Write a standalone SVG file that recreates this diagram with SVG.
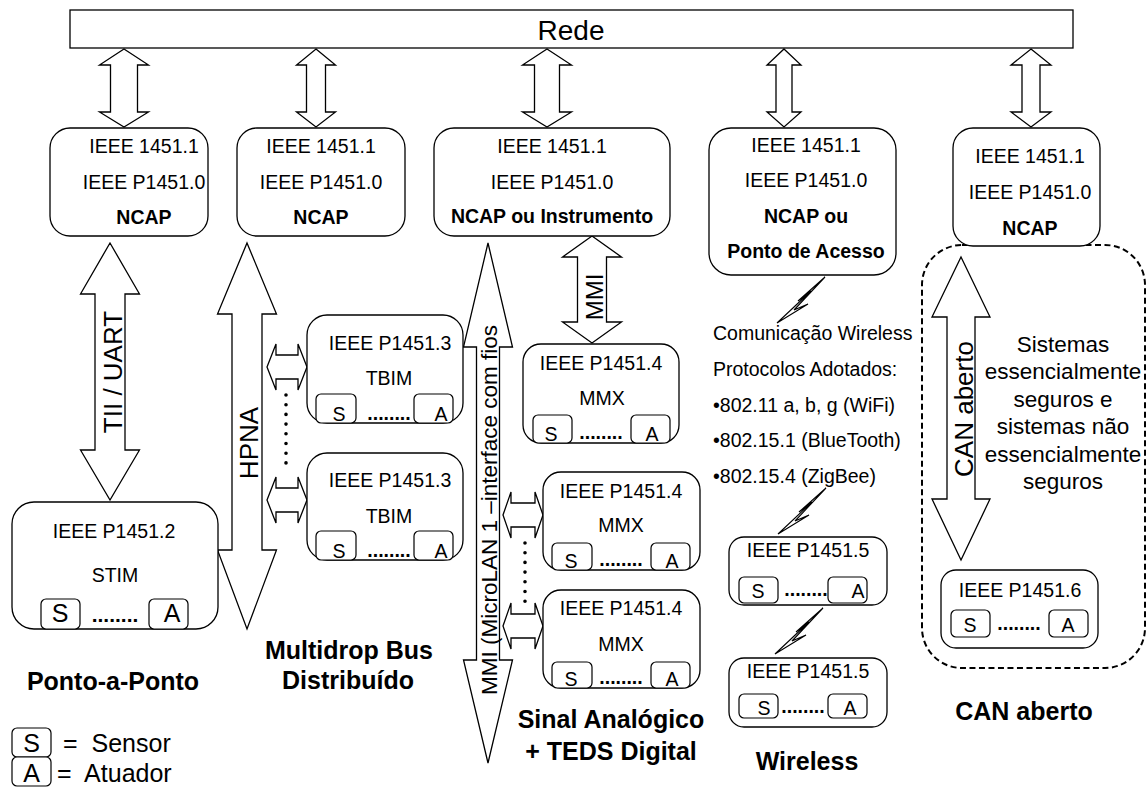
<svg xmlns="http://www.w3.org/2000/svg" xmlns:xlink="http://www.w3.org/1999/xlink" width="1147" height="787" viewBox="0 0 1147 787">
<style>
.t{font-family:"Liberation Sans",Arial,sans-serif;font-size:19.5px;text-anchor:middle;fill:#000}
.b{font-weight:bold}
.box{fill:#fff;stroke:#000;stroke-width:1.3}
.sa{fill:#fff;stroke:#000;stroke-width:1.2}
.arr{fill:#fff;stroke:#000;stroke-width:1.3;stroke-linejoin:miter}
.lab{font-family:"Liberation Sans",Arial,sans-serif;font-size:25px;font-weight:bold;text-anchor:middle;fill:#000}
.rot{font-family:"Liberation Sans",Arial,sans-serif;font-size:26px;text-anchor:middle;fill:#000}
.dots{fill:none;stroke:#000;stroke-width:3.6;stroke-linecap:round;stroke-dasharray:0 9.7}
.bolt{fill:#fff;stroke:#000;stroke-width:1.1;stroke-linejoin:miter}
</style>
<defs>
<path id="bolt" d="M0,0 L-31,33 L-17,27 L-48,46 L-14,14 L-27,24 Z"/>
</defs>
<rect width="1147" height="787" fill="#fff"/>

<!-- CAN container -->
<g id="can-group">
<rect x="922" y="245" width="223" height="423" rx="40" fill="none" stroke="#000" stroke-width="2" stroke-dasharray="6 3.5"/>
</g>

<g id="rede">
<rect x="70" y="10" width="1003" height="38" fill="#fff" stroke="#000" stroke-width="1.3"/>
<text x="571" y="40" class="t" style="font-size:28px">Rede</text>
</g>

<g id="connectors">
<path class="arr" d="M124,49 L148.5,65 L137.5,65 L137.5,112 L148.5,112 L124,127 L99.5,112 L110.5,112 L110.5,65 L99.5,65 Z"/>
<path class="arr" d="M316,49 L335.5,65 L325.5,65 L325.5,112 L335.5,112 L316,127 L296.5,112 L306.5,112 L306.5,65 L296.5,65 Z"/>
<path class="arr" d="M547,49 L571.5,65 L559.5,65 L559.5,112 L571.5,112 L547,127 L522.5,112 L534.5,112 L534.5,65 L522.5,65 Z"/>
<path class="arr" d="M784,49 L801,65 L792,65 L792,112 L801,112 L784,127 L767,112 L776,112 L776,65 L767,65 Z"/>
<path class="arr" d="M1031,49 L1051,65 L1040,65 L1040,112 L1051,112 L1031,127 L1011,112 L1022,112 L1022,65 L1011,65 Z"/>

<path class="arr" d="M110,243 L139.5,294 L125,294 L125,450 L139.5,450 L110,500 L80.5,450 L95,450 L95,294 L80.5,294 Z"/>
<text class="rot" transform="translate(122,372) rotate(-90)">TII / UART</text>

<path class="arr" d="M247,243 L276.5,314 L262,314 L262,550 L276.5,550 L247,629 L217.5,550 L232,550 L232,314 L217.5,314 Z"/>
<text class="rot" transform="translate(258,443) rotate(-90)">HPNA</text>

<path class="arr" d="M267,367 L276,344 L276,355 L298,355 L298,344 L307,367 L298,390 L298,379 L276,379 L276,390 Z"/>
<path class="arr" d="M267,500 L276,477 L276,488 L298,488 L298,477 L307,500 L298,523 L298,512 L276,512 L276,523 Z"/>
<line class="dots" x1="286" y1="395" x2="286" y2="464"/>

<path class="arr" d="M488,243 L512.5,347 L499.5,347 L499.5,660 L512.5,660 L488,763 L463.5,660 L476.5,660 L476.5,347 L463.5,347 Z"/>
<text class="rot" style="font-size:22.5px" transform="translate(497,510) rotate(-90)">MMI (MicroLAN 1 –interface com fios</text>

<path class="arr" d="M503,515 L511,492 L511,503 L535,503 L535,492 L543,515 L535,538 L535,527 L511,527 L511,538 Z"/>
<path class="arr" d="M503,626 L511,603 L511,614 L535,614 L535,603 L543,626 L535,649 L535,638 L511,638 L511,649 Z"/>
<line class="dots" x1="525" y1="543" x2="525" y2="602"/>

<path class="arr" d="M592,236 L621.5,257 L606.5,257 L606.5,322 L621.5,322 L592,343 L562.5,322 L577.5,322 L577.5,257 L562.5,257 Z"/>
<text class="rot" style="font-size:24px" transform="translate(603,297) rotate(-90)">MMI</text>

<use xlink:href="#bolt" class="bolt" transform="translate(825,277)"/>
<use xlink:href="#bolt" class="bolt" transform="translate(826,488)"/>
<use xlink:href="#bolt" class="bolt" transform="translate(823,608)"/>

<path class="arr" d="M961,257 L990,317 L975,317 L975,499 L990,499 L961,560 L932,499 L947,499 L947,317 L932,317 Z"/>
<text class="rot" transform="translate(973,409) rotate(-90)">CAN aberto</text>
</g>

<g id="ncap1">
<rect class="box" x="50" y="128" width="158" height="108" rx="20"/>
<text class="t" x="144" y="153">IEEE 1451.1</text>
<text class="t" x="144" y="189">IEEE P1451.0</text>
<text class="t b" x="144" y="224">NCAP</text>
</g>
<g id="ncap2">
<rect class="box" x="237" y="128" width="168" height="108" rx="20"/>
<text class="t" x="321" y="153">IEEE 1451.1</text>
<text class="t" x="321" y="189">IEEE P1451.0</text>
<text class="t b" x="321" y="224">NCAP</text>
</g>
<g id="ncap3">
<rect class="box" x="434" y="128" width="236" height="108" rx="20"/>
<text class="t" x="552" y="153">IEEE 1451.1</text>
<text class="t" x="552" y="189">IEEE P1451.0</text>
<text class="t b" x="552" y="223">NCAP ou Instrumento</text>
</g>
<g id="ncap4">
<rect class="box" x="709" y="128" width="187" height="147" rx="22"/>
<text class="t" x="806" y="152">IEEE 1451.1</text>
<text class="t" x="806" y="187">IEEE P1451.0</text>
<text class="t b" x="806" y="223">NCAP ou</text>
<text class="t b" x="806" y="258">Ponto de Acesso</text>
</g>
<g id="ncap5">
<rect class="box" x="953" y="128" width="147" height="118" rx="20"/>
<text class="t" x="1030" y="163">IEEE 1451.1</text>
<text class="t" x="1030" y="199">IEEE P1451.0</text>
<text class="t b" x="1030" y="235">NCAP</text>
</g>

<g id="stim">
<rect class="box" x="12" y="502" width="206" height="127" rx="22"/>
<text class="t" x="114" y="538">IEEE P1451.2</text>
<text class="t" x="115" y="582">STIM</text>
<rect class="sa" x="41" y="599" width="39" height="30" rx="5"/>
<text class="t" style="font-size:25px" x="60" y="622">S</text>
<text class="t b" x="115" y="622" style="font-size:21px">........</text>
<rect class="sa" x="149" y="599" width="39" height="30" rx="5"/>
<text class="t" style="font-size:25px" x="172" y="622">A</text>
</g>

<g id="tbim1">
<rect class="box" x="307" y="315" width="156" height="108" rx="20"/>
<text class="t" x="390" y="350">IEEE P1451.3</text>
<text class="t" x="389" y="385">TBIM</text>
<rect class="sa" x="316" y="394" width="40" height="29" rx="5"/>
<text class="t" x="339" y="421">S</text>
<text class="t b" x="389" y="420">........</text>
<rect class="sa" x="414" y="394" width="39" height="29" rx="5"/>
<text class="t" x="441" y="421">A</text>
</g>
<g id="tbim2">
<rect class="box" x="307" y="453" width="156" height="107" rx="20"/>
<text class="t" x="390" y="487">IEEE P1451.3</text>
<text class="t" x="389" y="523">TBIM</text>
<rect class="sa" x="316" y="531" width="40" height="29" rx="5"/>
<text class="t" x="339" y="558">S</text>
<text class="t b" x="389" y="557">........</text>
<rect class="sa" x="414" y="531" width="39" height="29" rx="5"/>
<text class="t" x="441" y="558">A</text>
</g>

<g id="mmx1">
<rect class="box" x="523" y="344" width="156" height="99" rx="18"/>
<text class="t" x="601" y="370">IEEE P1451.4</text>
<text class="t" x="602" y="405">MMX</text>
<rect class="sa" x="533" y="415" width="39" height="28" rx="5"/>
<text class="t" x="551" y="441">S</text>
<text class="t b" x="601" y="439">........</text>
<rect class="sa" x="631" y="415" width="39" height="28" rx="5"/>
<text class="t" x="652" y="441">A</text>
</g>
<g id="mmx2">
<rect class="box" x="543" y="472" width="157" height="98" rx="18"/>
<text class="t" x="621" y="498">IEEE P1451.4</text>
<text class="t" x="621" y="532">MMX</text>
<rect class="sa" x="552" y="543" width="40" height="27" rx="5"/>
<text class="t" x="571" y="568">S</text>
<text class="t b" x="621" y="566">........</text>
<rect class="sa" x="651" y="543" width="39" height="27" rx="5"/>
<text class="t" x="672" y="568">A</text>
</g>
<g id="mmx3">
<rect class="box" x="543" y="590" width="157" height="98" rx="18"/>
<text class="t" x="621" y="615">IEEE P1451.4</text>
<text class="t" x="621" y="651">MMX</text>
<rect class="sa" x="552" y="662" width="40" height="26" rx="5"/>
<text class="t" x="571" y="686">S</text>
<text class="t b" x="621" y="684">........</text>
<rect class="sa" x="651" y="662" width="39" height="26" rx="5"/>
<text class="t" x="672" y="686">A</text>
</g>

<g id="wireless-info">
<text class="t" style="text-anchor:start" x="713" y="340">Comunicação Wireless</text>
<text class="t" style="text-anchor:start" x="713" y="376">Protocolos Adotados:</text>
<text class="t" style="text-anchor:start" x="713" y="412">•802.11 a, b, g (WiFi)</text>
<text class="t" style="text-anchor:start" x="713" y="447">•802.15.1 (BlueTooth)</text>
<text class="t" style="text-anchor:start" x="713" y="483">•802.15.4 (ZigBee)</text>
</g>

<g id="p1451-5a">
<rect class="box" x="729" y="537" width="158" height="68" rx="15"/>
<text class="t" x="808" y="557">IEEE P1451.5</text>
<rect class="sa" x="739" y="577" width="39" height="26" rx="5"/>
<text class="t" x="758" y="598">S</text>
<text class="t b" x="806" y="596">........</text>
<rect class="sa" x="828" y="577" width="39" height="26" rx="5"/>
<text class="t" x="858" y="598">A</text>
</g>
<g id="p1451-5b">
<rect class="box" x="729" y="658" width="158" height="69" rx="15"/>
<text class="t" x="808" y="678">IEEE P1451.5</text>
<rect class="sa" x="739" y="694" width="39" height="24" rx="5"/>
<text class="t" x="764" y="715">S</text>
<text class="t b" x="803" y="713">........</text>
<rect class="sa" x="828" y="694" width="39" height="24" rx="5"/>
<text class="t" x="850" y="715">A</text>
</g>

<g id="can-text">
<text class="t" style="font-size:22.5px" x="1063" y="352">Sistemas</text>
<text class="t" style="font-size:22.5px" x="1063" y="379">essencialmente</text>
<text class="t" style="font-size:22.5px" x="1063" y="407">seguros e</text>
<text class="t" style="font-size:22.5px" x="1063" y="434">sistemas não</text>
<text class="t" style="font-size:22.5px" x="1063" y="462">essencialmente</text>
<text class="t" style="font-size:22.5px" x="1063" y="489">seguros</text>
</g>

<g id="p1451-6">
<rect class="box" x="941" y="570" width="157" height="78" rx="15"/>
<text class="t" x="1020" y="597">IEEE P1451.6</text>
<rect class="sa" x="951" y="610" width="39" height="27" rx="5"/>
<text class="t" x="970" y="632">S</text>
<text class="t b" x="1019" y="630">........</text>
<rect class="sa" x="1049" y="610" width="39" height="27" rx="5"/>
<text class="t" x="1068" y="632">A</text>
</g>

<g id="labels">
<text class="lab" x="113" y="690">Ponto-a-Ponto</text>
<text class="lab" x="349" y="659">Multidrop Bus</text>
<text class="lab" x="348" y="689">Distribuído</text>
<text class="lab" x="611" y="728">Sinal Analógico</text>
<text class="lab" x="611" y="760">+ TEDS Digital</text>
<text class="lab" x="807" y="770">Wireless</text>
<text class="lab" x="1024" y="720">CAN aberto</text>
</g>

<g id="legend">
<rect class="sa" x="12" y="728" width="39" height="29" rx="5"/>
<text class="t" style="font-size:25px" x="31.5" y="752">S</text>
<text class="t" style="font-size:25px;text-anchor:start" x="63" y="752" xml:space="preserve">=  Sensor</text>
<rect class="sa" x="12" y="757" width="39" height="29" rx="5"/>
<text class="t" style="font-size:25px" x="31.5" y="782">A</text>
<text class="t" style="font-size:25px;text-anchor:start" x="57" y="782" xml:space="preserve">=  Atuador</text>
</g>
</svg>
